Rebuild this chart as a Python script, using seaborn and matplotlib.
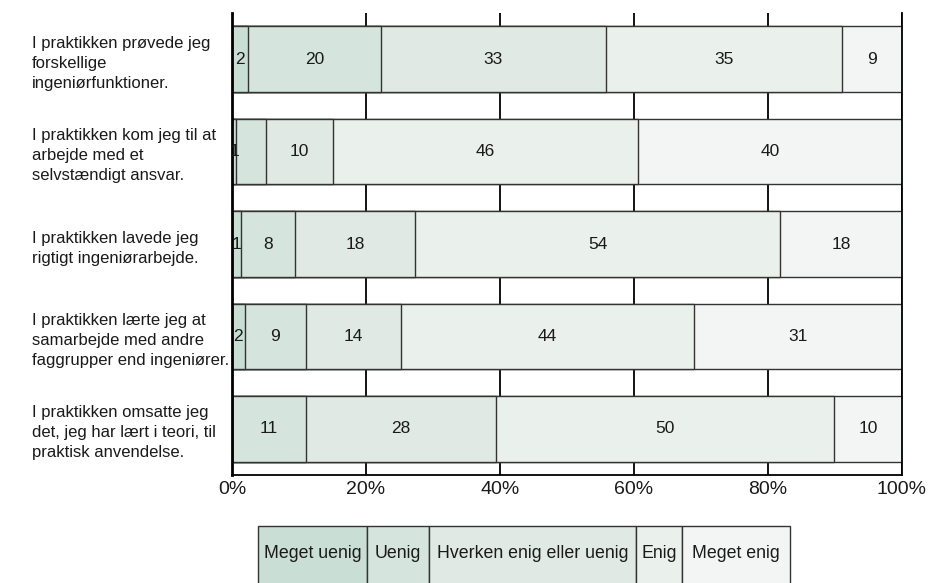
import numpy as np
import matplotlib.pyplot as plt
import matplotlib.ticker as mticker
from matplotlib.patches import Rectangle
import seaborn as sns

# ------------------------------------------------------------------
# DATA (percent of respondents)
# ------------------------------------------------------------------
questions = [
    "I praktikken prøvede jeg\nforskellige\ningeniørfunktioner.",
    "I praktikken kom jeg til at\narbejde med et\nselvstændigt ansvar.",
    "I praktikken lavede jeg\nrigtigt ingeniørarbejde.",
    "I praktikken lærte jeg at\nsamarbejde med andre\nfaggrupper end ingeniører.",
    "I praktikken omsatte jeg\ndet, jeg har lært i teori, til\npraktisk anvendelse.",
]
categories = ["Meget uenig", "Uenig", "Hverken enig eller uenig", "Enig", "Meget enig"]

meget_uenig = [2.4, 0.6, 1.3, 1.9, 0.0]
uenig       = [19.8, 4.4, 8.1, 9.1, 11.0]
hverken     = [33.6, 10.0, 17.9, 14.2, 28.4]
enig        = [35.2, 45.6, 54.5, 43.7, 50.5]
meget_enig  = [9.0, 39.4, 18.2, 31.1, 10.1]

# labels as printed in the bars
lbl_meget_uenig = ["2", "1", "1", "2", ""]
lbl_uenig       = ["20", "", "8", "9", "11"]
lbl_hverken     = ["33", "10", "18", "14", "28"]
lbl_enig        = ["35", "46", "54", "44", "50"]
lbl_meget_enig  = ["9", "40", "18", "31", "10"]

colors = ["#c9ded4", "#d5e4dd", "#e0e9e4", "#eaf0ec", "#f3f5f4"]

# ------------------------------------------------------------------
# SETTINGS
# ------------------------------------------------------------------
sns.set_theme(style="white")
plt.rcParams["font.family"] = ["Liberation Sans", "DejaVu Sans"]

values = np.array([meget_uenig, uenig, hverken, enig, meget_enig])
labels = [lbl_meget_uenig, lbl_uenig, lbl_hverken, lbl_enig, lbl_meget_enig]
cum = values.cumsum(axis=0)

fig = plt.figure(figsize=(9.31, 5.83), dpi=100)
ax = fig.add_axes([232 / 931, 108 / 583, 670 / 931, 462 / 583])

# stacked bars: draw cumulative totals from the widest down
for k in range(len(categories) - 1, -1, -1):
    sns.barplot(x=cum[k], y=questions, color=colors[k], orient="h",
                width=0.71, edgecolor="#333333", linewidth=1.0,
                saturation=1, ax=ax, zorder=2)

# value labels centered in each segment
for k in range(len(categories)):
    starts = cum[k] - values[k]
    for i, txt in enumerate(labels[k]):
        if txt:
            ax.text(starts[i] + values[k][i] / 2, i, txt, ha="center",
                    va="center", fontsize=12.5, color="#1a1a1a", zorder=3)

ax.set_xlim(0, 100)
ax.set_ylim(4.5, -0.5)
ax.set_xticks([0, 20, 40, 60, 80, 100])
ax.xaxis.set_major_formatter(mticker.FuncFormatter(lambda x, _: f"{x:.0f}%"))
ax.set_xlabel("")
ax.set_ylabel("")
ax.xaxis.grid(True, color="black", linewidth=1.3)
ax.set_axisbelow(True)
ax.tick_params(axis="x", length=0, pad=4, labelsize=14, labelcolor="#1a1a1a")
ax.tick_params(axis="y", length=0, pad=144, labelsize=12, labelcolor="#1a1a1a")
for lab in ax.get_yticklabels():
    lab.set_ha("left")
    lab.set_linespacing(1.42)

ax.spines["top"].set_visible(False)
ax.spines["left"].set_linewidth(2)
ax.spines["left"].set_color("black")
ax.spines["right"].set_linewidth(1.3)
ax.spines["right"].set_color("black")
ax.spines["bottom"].set_linewidth(1.3)
ax.spines["bottom"].set_color("black")

# legend: boxed entries under the chart
edges = [258, 367, 429, 636, 682, 790]
for k, name in enumerate(categories):
    x0, x1 = edges[k] / 931, edges[k + 1] / 931
    fig.add_artist(Rectangle((x0, -0.01), x1 - x0, (583 - 526) / 583 + 0.01,
                             transform=fig.transFigure, facecolor=colors[k],
                             edgecolor="#333333", linewidth=1.0))
    fig.text((x0 + x1) / 2, (583 - 554) / 583, name, ha="center",
             va="center", fontsize=12.8, color="#1a1a1a")

plt.savefig("out.png", dpi=100, facecolor="white")
plt.close()
